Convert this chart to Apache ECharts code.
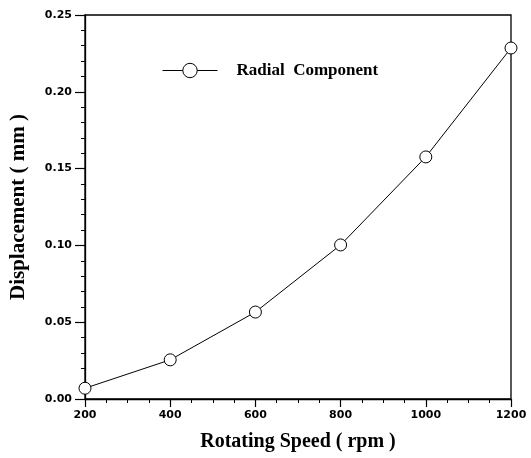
<!DOCTYPE html>
<html><head><meta charset="utf-8">
<script src="https://cdn.jsdelivr.net/npm/echarts@6/dist/echarts.min.js"></script>
<style>html,body{margin:0;padding:0;background:#fff}#c{width:531px;height:458px}</style>
</head><body><div id="c"></div>
<script>
const speeds = [200, 400, 600, 800, 1000, 1200];
const radial = [0.007, 0.0255, 0.0566, 0.1003, 0.1576, 0.2285];
const seriesName = 'Radial  Component';
const xTitle = 'Rotating Speed ( rpm )';
const yTitle = 'Displacement ( mm )';

const chart = echarts.init(document.getElementById('c'), null, {renderer: 'canvas'});
const tickFont = {fontFamily: 'DejaVu Sans', fontWeight: 'bold', fontSize: 11, color: '#000'};
chart.setOption({
  animation: false,
  backgroundColor: '#fff',
  grid: {left: 84, right: 20, top: 15, bottom: 59, show: true, borderColor: '#000', borderWidth: 1.3},
  legend: {
    data: [seriesName], left: 157, top: 57, itemWidth: 55, itemHeight: 18, itemGap: 20,
    lineStyle: {width: 1, color: '#000'},
    itemStyle: {borderWidth: 1, borderColor: '#000', color: '#fff'},
    textStyle: {fontFamily: 'Liberation Serif, Times New Roman', fontWeight: 'bold', fontSize: 17, color: '#000', padding: [16,0,0,14]}
  },
  xAxis: {
    type: 'value', min: 200, max: 1200, interval: 200,
    name: xTitle, nameLocation: 'middle', nameGap: 33,
    nameTextStyle: {fontFamily: 'Liberation Serif, Times New Roman', fontWeight: 'bold', fontSize: 20, color: '#000'},
    axisLine: {show: true, lineStyle: {color: '#000', width: 1.3}},
    axisTick: {show: true, inside: false, length: 8, lineStyle: {color: '#000', width: 1.2}},
    minorTick: {show: true, splitNumber: 4, length: 4, lineStyle: {color: '#000', width: 1}},
    splitLine: {show: false},
    axisLabel: Object.assign({margin: 11, formatter: v => String(v)}, tickFont)
  },
  yAxis: {
    type: 'value', min: 0, max: 0.25, interval: 0.05,
    name: yTitle, nameLocation: 'middle', nameGap: 56, nameRotate: 90,
    nameTextStyle: {fontFamily: 'Liberation Serif, Times New Roman', fontWeight: 'bold', fontSize: 21, color: '#000'},
    axisLine: {show: true, lineStyle: {color: '#000', width: 1.3}},
    axisTick: {show: true, inside: false, length: 10, lineStyle: {color: '#000', width: 1.2}},
    minorTick: {show: true, splitNumber: 5, length: 4, lineStyle: {color: '#000', width: 1}},
    splitLine: {show: false},
    axisLabel: Object.assign({margin: 13, formatter: v => v.toFixed(2)}, tickFont)
  },
  series: [{
    name: seriesName, type: 'line', smooth: false,
    data: speeds.map((s, i) => [s, radial[i]]),
    symbol: 'circle', symbolSize: 12,
    lineStyle: {color: '#000', width: 1},
    itemStyle: {color: '#fff', borderColor: '#000', borderWidth: 1}
  }]
});
</script></body></html>
